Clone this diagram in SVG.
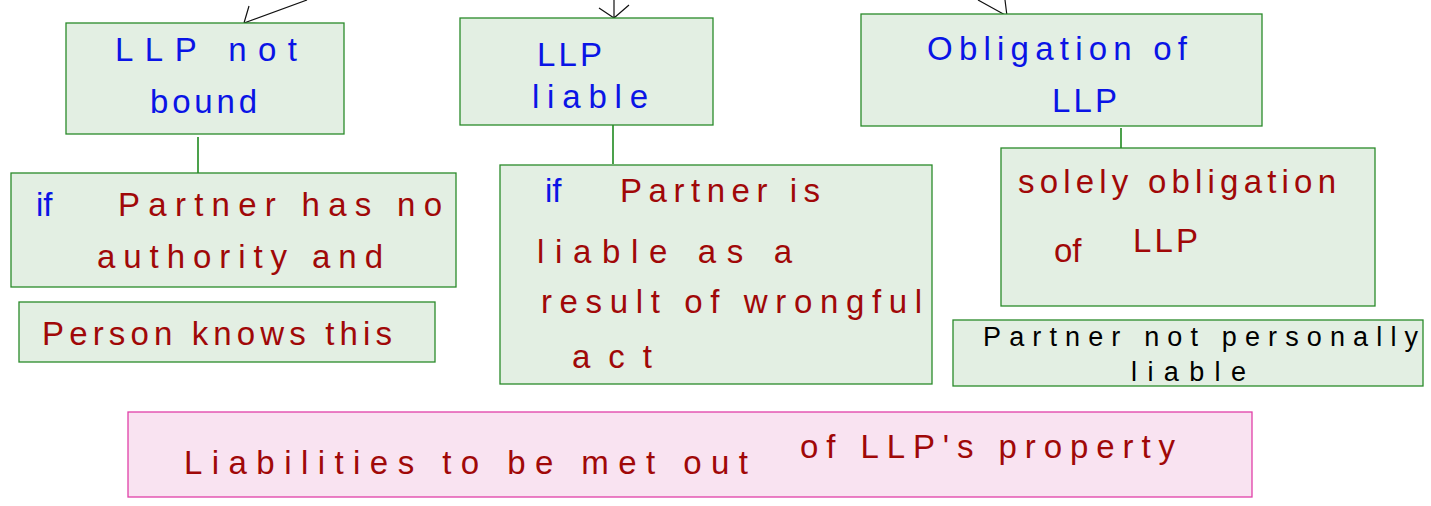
<svg xmlns="http://www.w3.org/2000/svg" width="1431" height="506" viewBox="0 0 1431 506">
<style>
.box{fill:#e3efe3;stroke:#2a8a2a;stroke-width:1.3}
.pink{fill:#f9e3f1;stroke:#e040a8;stroke-width:1.3}
.conn{stroke:#1f8a1f;stroke-width:1.6;fill:none}
.arr{stroke:#111;stroke-width:1.2;fill:none}
text{font-family:"Liberation Sans","DejaVu Sans",sans-serif;font-size:33px}
.b{fill:#0a14e6}
.r{fill:#a00808}
.k{fill:#000;font-size:27px}
</style>
<rect width="1431" height="506" fill="#fff"/>
<g id="connectors">
<path class="arr" d="M307,0 L244,23 M244,23 L249,6 M244,23 L271,24"/>
<path class="arr" d="M614,0 L614,18 M614,18 L599,8 M614,18 L629,5"/>
<path class="arr" d="M978,0 L1007,16 M1007,16 L972,16 M1007,16 L1005,0"/>
<line class="conn" x1="198" y1="137" x2="198" y2="175"/>
<line class="conn" x1="613" y1="125" x2="613" y2="164"/>
<line class="conn" x1="1121" y1="128" x2="1121" y2="154"/>
</g>
<g id="n1"><rect class="box" x="66" y="23" width="278" height="111"/>
<text class="b" x="115" y="61" textLength="182" lengthAdjust="spacing">LLP not</text>
<text class="b" x="150" y="113" textLength="107" lengthAdjust="spacing">bound</text></g>
<g id="n2"><rect class="box" x="460" y="18" width="253" height="107"/>
<text class="b" x="537" y="66" textLength="65" lengthAdjust="spacing">LLP</text>
<text class="b" x="532" y="108" textLength="116" lengthAdjust="spacing">liable</text></g>
<g id="n3"><rect class="box" x="861" y="14" width="401" height="112"/>
<text class="b" x="927" y="60" textLength="260" lengthAdjust="spacing">Obligation of</text>
<text class="b" x="1052" y="112" textLength="65" lengthAdjust="spacing">LLP</text></g>
<g id="n4"><rect class="box" x="11" y="173" width="445" height="114"/>
<text class="b" x="36" y="216">if</text>
<text class="r" x="118" y="216" textLength="324" lengthAdjust="spacing">Partner has no</text>
<text class="r" x="97" y="268" textLength="286" lengthAdjust="spacing">authority and</text></g>
<g id="n5"><rect class="box" x="19" y="302" width="416" height="60"/>
<text class="r" x="42" y="345" textLength="350" lengthAdjust="spacing">Person knows this</text></g>
<g id="n6"><rect class="box" x="500" y="165" width="432" height="219"/>
<text class="b" x="545" y="202">if</text>
<text class="r" x="620" y="202" textLength="200" lengthAdjust="spacing">Partner is</text>
<text class="r" x="537" y="263" textLength="255" lengthAdjust="spacing">liable as a</text>
<text class="r" x="541" y="313" textLength="381" lengthAdjust="spacing">result of wrongful</text>
<text class="r" x="572" y="368" textLength="80" lengthAdjust="spacing">act</text></g>
<g id="n7"><rect class="box" x="1001" y="148" width="374" height="158"/>
<text class="r" x="1018" y="193" textLength="318" lengthAdjust="spacing">solely obligation</text>
<text class="r" x="1054" y="262">of</text>
<text class="r" x="1133" y="252" textLength="65" lengthAdjust="spacing">LLP</text></g>
<g id="n8"><rect class="box" x="953" y="320" width="470" height="66"/>
<text class="k" x="983" y="346" textLength="435" lengthAdjust="spacing">Partner not personally</text>
<text class="k" x="1131" y="381" textLength="115" lengthAdjust="spacing">liable</text></g>
<g id="n9"><rect class="pink" x="128" y="412" width="1124" height="85"/>
<text class="r" x="184" y="474" textLength="564" lengthAdjust="spacing">Liabilities to be met out</text>
<text class="r" x="800" y="458" textLength="375" lengthAdjust="spacing">of LLP's property</text></g>
</svg>
